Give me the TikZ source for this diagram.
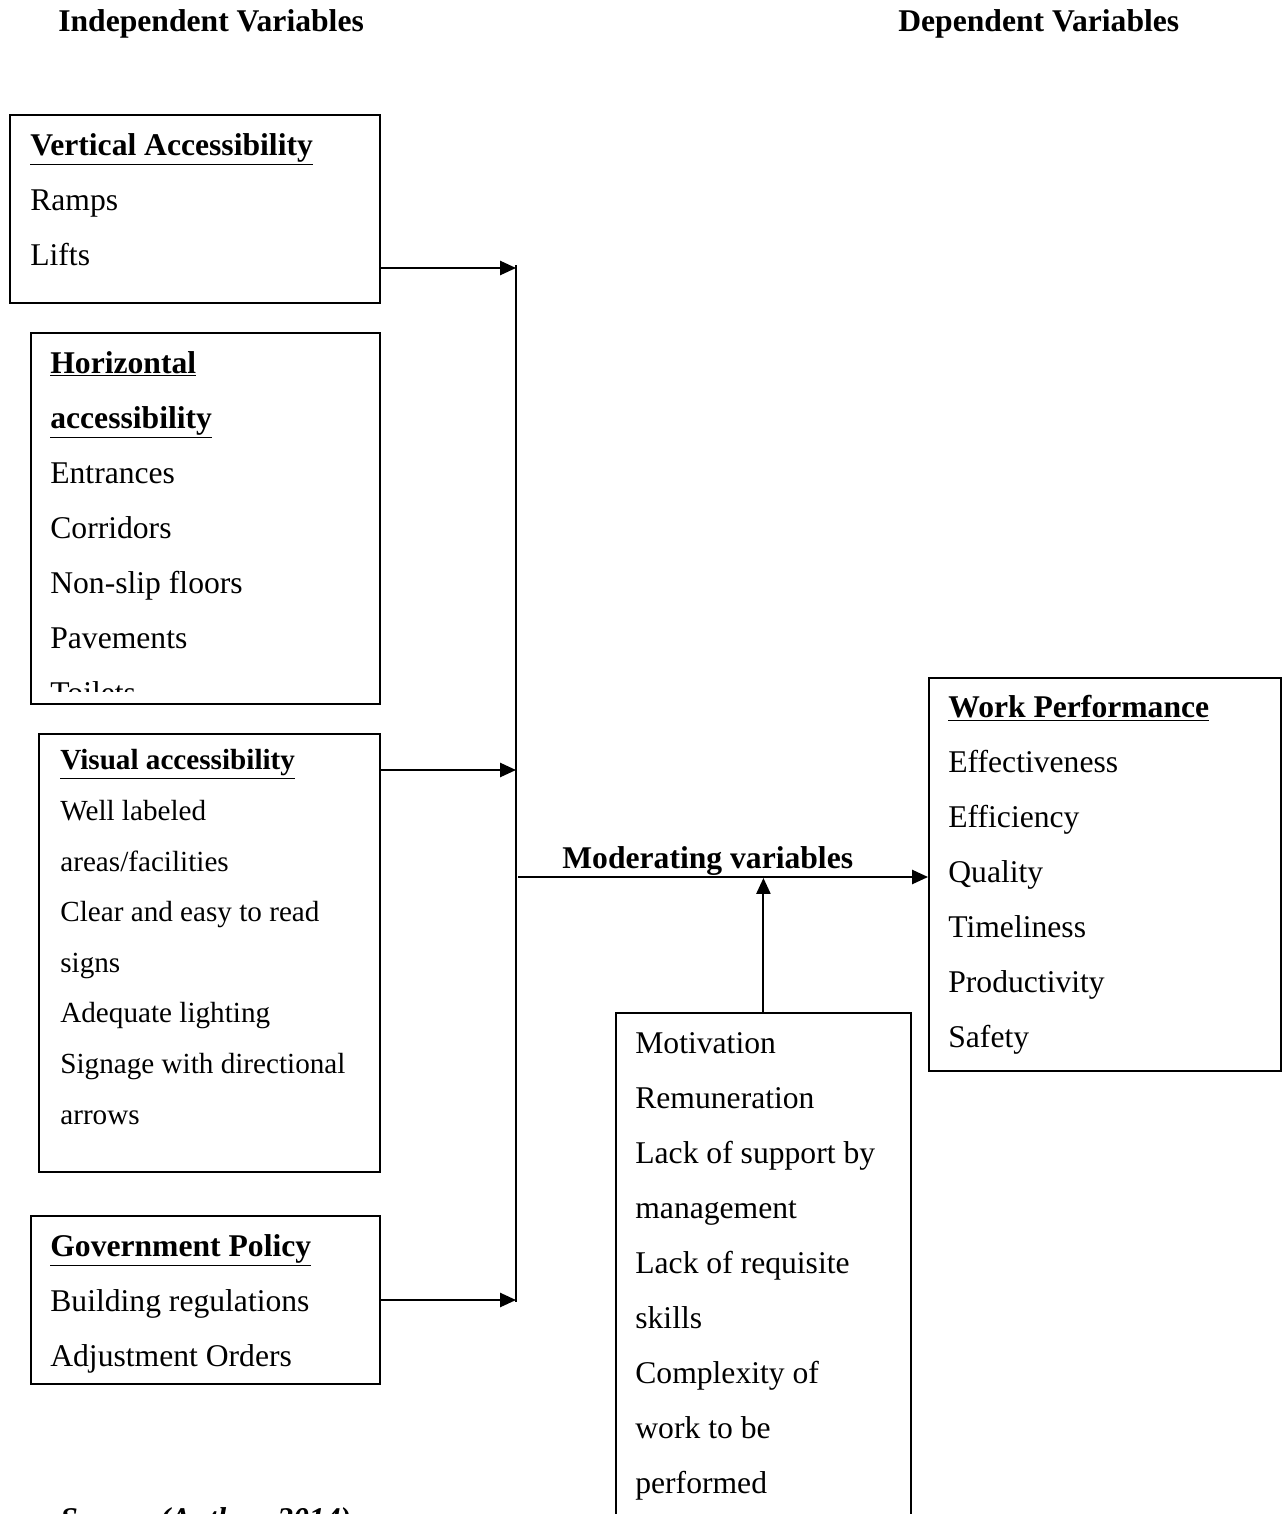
\documentclass[tikz,border=0pt]{standalone}
\usepackage{fontspec}
\setmainfont{Liberation Serif}
\usepackage{tikz}
\usetikzlibrary{arrows.meta, positioning, calc}
\tikzset{
  varbox/.style={rectangle, draw=black, line width=1.1pt, anchor=north west, inner sep=0pt},
  vartext/.style={anchor=base west, align=left, inner sep=0pt, font=\fontsize{18}{31.3}\selectfont},
  smalltext/.style={vartext, font=\fontsize{16.6}{28.8}\selectfont},
  headtext/.style={anchor=base west, inner sep=0pt, font=\bfseries\fontsize{18}{22}\selectfont},
  link/.style={-{Triangle[length=9pt, width=8pt]}, line width=1.1pt},
  busline/.style={line width=1.1pt}
}
\newcommand{\boxhead}[1]{\underline{\textbf{#1}}}

\begin{document}
\begin{tikzpicture}[x=0.02cm, y=-0.02cm]
  \clip (0,0) rectangle (1286,1514);

  % column headings
  \node[headtext] (indep) at (58,32) {Independent Variables};
  \node[headtext] (dep) at (898,32) {Dependent Variables};

  % independent variable boxes (text nodes sit on their last baseline)
  \node[varbox, minimum width=7.4cm, minimum height=3.76cm] (vbox) at (9,114) {};
  \node[vartext] (vtext) at (30,265) {\boxhead{Vertical Accessibility}\\Ramps\\Lifts};

  \node[varbox, minimum width=6.98cm, minimum height=7.42cm] (hbox) at (30,332) {};
  \begin{scope}
    \clip (30,332) rectangle (379,691);
    \node[vartext] (htext) at (50,703) {\boxhead{Horizontal}\\\boxhead{accessibility}\\Entrances\\Corridors\\Non-slip floors\\Pavements\\Toilets};
  \end{scope}

  \node[varbox, minimum width=6.82cm, minimum height=8.76cm] (visbox) at (38,733) {};
  \node[smalltext] (vistext) at (60,1124) {\boxhead{Visual accessibility}\\Well labeled\\areas/facilities\\Clear and easy to read\\signs\\Adequate lighting\\Signage with directional\\arrows};

  \node[varbox, minimum width=6.98cm, minimum height=3.36cm] (govbox) at (30,1215) {};
  \node[vartext] (govtext) at (50,1366) {\boxhead{Government Policy}\\Building regulations\\Adjustment Orders};

  % dependent variable box
  \node[varbox, minimum width=7.04cm, minimum height=7.86cm] (perfbox) at (928,677) {};
  \node[vartext] (perftext) at (948,1047) {\boxhead{Work Performance}\\Effectiveness\\Efficiency\\Quality\\Timeliness\\Productivity\\Safety};

  % moderating variables
  \node[varbox, minimum width=5.9cm, minimum height=12cm] (modbox) at (615,1012) {};
  \node[vartext] (modtext) at (635,1493) {Motivation\\Remuneration\\Lack of support by\\management\\Lack of requisite\\skills\\Complexity of\\work to be\\performed};
  \node[headtext] (modlabel) at (562,868) {Moderating variables};

  \coordinate (bustop) at (516,268);
  \coordinate (busvis) at (516,770);
  \coordinate (busbot) at (516,1300);
  \coordinate (busmid) at (518,877);

  \draw[busline] ($(bustop)+(0,-3)$) -- ($(busbot)+(0,2)$);
  \draw[link] (vbox.east |- bustop) -- (bustop);
  \draw[link] (visbox.east |- busvis) -- (busvis);
  \draw[link] (govbox.east |- busbot) -- (busbot);
  \draw[link] (busmid) -- (perfbox.west |- busmid);
  \draw[link] (modbox.north) -- ($(modbox.north |- busmid)+(0,1)$);

  \node[anchor=base west, inner sep=0pt, font=\bfseries\itshape\fontsize{18}{22}\selectfont] (source) at (60,1529) {Source (Author, 2014)};
\end{tikzpicture}
\end{document}
